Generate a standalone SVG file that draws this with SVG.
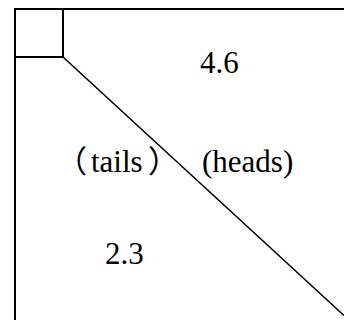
<svg xmlns="http://www.w3.org/2000/svg" width="344" height="320" viewBox="0 0 344 320">
<style>
.ln{stroke:#000;stroke-width:2;fill:none}
.dg{stroke:#000;stroke-width:1.6;fill:none}
text{font-family:'Liberation Serif','Times New Roman','DejaVu Serif','Noto Sans CJK SC',serif;font-size:31px;fill:#000}
</style>
<rect width="344" height="320" fill="#fff"/>
<g id="frame">
<line class="ln" x1="15" y1="9" x2="344" y2="9"/>
<line class="ln" x1="15" y1="8" x2="15" y2="320"/>
<rect class="ln" x="15" y="9" width="48" height="48"/>
<line class="dg" x1="63" y1="57" x2="344" y2="315.5"/>
</g>
<g id="labels">
<text x="200" y="73">4.6</text>
<text y="172"><tspan x="56">（</tspan><tspan x="91">tails</tspan><tspan x="148">）</tspan></text>
<text x="202" y="172">(heads)</text>
<text x="105" y="264">2.3</text>
</g>
</svg>
